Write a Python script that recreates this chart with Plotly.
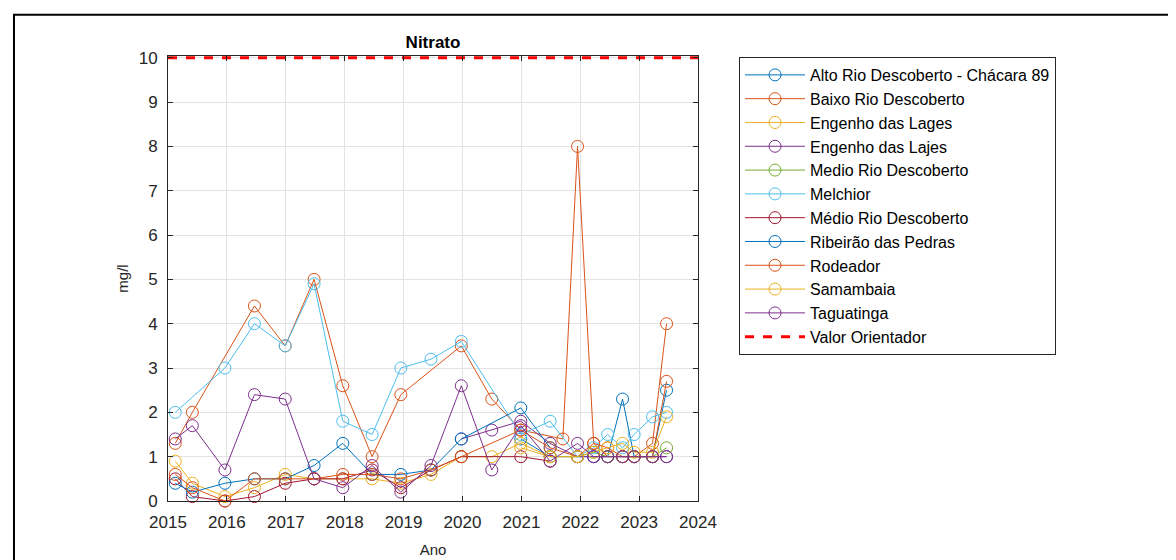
import plotly.graph_objects as go

# sampling dates
dates = ['2015-02-15', '2015-06-01', '2015-12-20', '2016-06-20', '2016-12-28',
         '2017-06-25', '2017-12-20', '2018-06-20', '2018-12-15', '2019-06-20',
         '2019-12-25', '2020-07-01', '2020-12-28', '2021-06-28', '2021-09-15',
         '2021-12-15', '2022-03-25', '2022-06-20', '2022-09-20', '2022-12-01',
         '2023-03-25', '2023-06-20']

# nitrato (mg/l) por estacao, None = sem coleta
alto_rio_descoberto = [None, None, None, None, None, None, None, None, None, None,
                       None, None, 1.4, 1.0, None, 1.0, 1.0, 1.0, 2.3, 1.0, 1.0, 2.5]
baixo_rio_descoberto = [1.3, 2.0, None, 4.4, 3.5, 5.0, 2.6, 1.0, 2.4, None,
                        3.5, 2.3, 1.6, None, 1.4, 8.0, 1.3, 1.0, 1.0, 1.0, 1.3, 4.0]
engenho_lages = [0.9, 0.4, 0.1, 0.3, 0.6, 0.5, 0.5, 0.5, 0.4, 0.6,
                 1.0, 1.0, 1.3, 1.0, None, None, None, None, None, None, None, None]
engenho_lajes = [None, None, None, None, None, None, None, None, None, None,
                 1.4, 1.6, 1.8, 1.3, None, 1.0, 1.0, 1.0, 1.0, 1.0, 1.0, 1.0]
medio_rio_descoberto = [None, None, None, None, None, None, None, None, None, None,
                        None, None, None, 1.0, None, 1.0, 1.1, 1.0, 1.0, 1.0, 1.0, 1.2]
melchior = [2.0, None, 3.0, 4.0, 3.5, 4.9, 1.8, 1.5, 3.0, 3.2,
            3.6, None, 1.5, 1.8, None, 1.0, 1.2, 1.5, 1.2, 1.5, 1.9, 2.0]
medio_rio_descoberto_acento = [0.5, 0.1, 0.0, 0.1, 0.4, 0.5, 0.5, 0.7, 0.3, 0.7,
                               1.0, None, 1.0, 0.9, None, None, None, None, None, None, None, None]
ribeirao_pedras = [0.4, 0.2, 0.4, 0.5, 0.5, 0.8, 1.3, 0.6, 0.6, 0.7,
                   1.4, None, 2.1, 1.2, None, None, None, None, None, None, None, None]
rodeador = [0.6, 0.3, 0.0, 0.5, 0.5, 0.5, 0.6, 0.6, 0.5, 0.7,
            1.0, None, 1.6, 1.2, None, 1.0, 1.3, 1.2, 1.0, 1.0, 1.0, 2.7]
samambaia = [None, None, None, None, None, None, None, None, None, None,
             None, None, 1.2, 1.0, None, 1.0, 1.1, 1.2, 1.3, 1.1, 1.1, 1.9]
taguatinga = [1.4, 1.7, 0.7, 2.4, 2.3, 0.5, 0.3, 0.8, 0.2, 0.8,
              2.6, 0.7, 1.7, 0.9, None, 1.3, 1.0, 1.0, 1.0, 1.0, 1.0, 1.0]

stations = ['Alto Rio Descoberto - Chácara 89', 'Baixo Rio Descoberto',
            'Engenho das Lages', 'Engenho das Lajes', 'Medio Rio Descoberto',
            'Melchior', 'Médio Rio Descoberto', 'Ribeirão das Pedras',
            'Rodeador', 'Samambaia', 'Taguatinga']
values = [alto_rio_descoberto, baixo_rio_descoberto, engenho_lages, engenho_lajes,
          medio_rio_descoberto, melchior, medio_rio_descoberto_acento,
          ribeirao_pedras, rodeador, samambaia, taguatinga]

limit_value = 10
x_range = ['2015-01-01', '2024-01-01']

# MATLAB default color order
colors = ['#0072BD', '#D95319', '#EDB120', '#7E2F8E', '#77AC30', '#4DBEEE', '#A2142F']

font = 'Liberation Sans, Arial, sans-serif'
ink = '#262626'

fig = go.Figure()

for i, (name, ys) in enumerate(zip(stations, values)):
    c = colors[i % len(colors)]
    fig.add_trace(go.Scatter(
        x=dates, y=ys, name=name, mode='lines+markers', connectgaps=True,
        line=dict(color=c, width=1),
        marker=dict(symbol='circle-open', size=12, color=c, line=dict(width=1)),
        cliponaxis=False))

fig.add_trace(go.Scatter(
    x=x_range, y=[limit_value, limit_value], name='Valor Orientador', mode='lines',
    line=dict(color='#FF0000', width=3, dash='dash')))

axis_style = dict(showline=True, linecolor=ink, linewidth=1, mirror='ticks',
                  ticks='inside', ticklen=5, tickcolor=ink,
                  showgrid=True, gridcolor='#E3E3E3', gridwidth=1, zeroline=False,
                  tickfont=dict(family=font, size=17, color=ink))

fig.update_xaxes(type='date', range=x_range, dtick='M12', tick0='2015-01-01',
                 tickformat='%Y', ticklabelstandoff=6,
                 title=dict(text='Ano', font=dict(family=font, size=15, color=ink), standoff=13),
                 **axis_style)
# a bit of headroom so the dashed limit line is not cut in half at the top border
fig.update_yaxes(range=[0, limit_value + 0.04], dtick=1, ticklabelstandoff=6,
                 title=dict(text='mg/l', font=dict(family=font, size=15, color=ink), standoff=6),
                 **axis_style)

# black frame around the whole figure
fig.add_shape(type='rect', xref='paper', yref='paper',
              x0=-0.2906, x1=1.9057, y0=-0.16, y1=1.0929,
              line=dict(color='black', width=2), fillcolor='rgba(0,0,0,0)')

fig.update_layout(
    width=1176, height=560,
    margin=dict(l=160, r=486, t=48, b=60),
    paper_bgcolor='white', plot_bgcolor='white',
    title=dict(text='<b>Nitrato</b>', x=0.5, xref='paper', xanchor='center',
               y=1 - 34 / 560, yanchor='middle',
               font=dict(family=font, size=17, color='black')),
    legend=dict(x=1.0774, y=0.9978, xanchor='left', yanchor='top',
                bordercolor=ink, borderwidth=1, bgcolor='white',
                font=dict(family=font, size=16, color='black'),
                itemwidth=60, tracegroupgap=0),
    showlegend=True,
)

fig.write_html('out.html')
